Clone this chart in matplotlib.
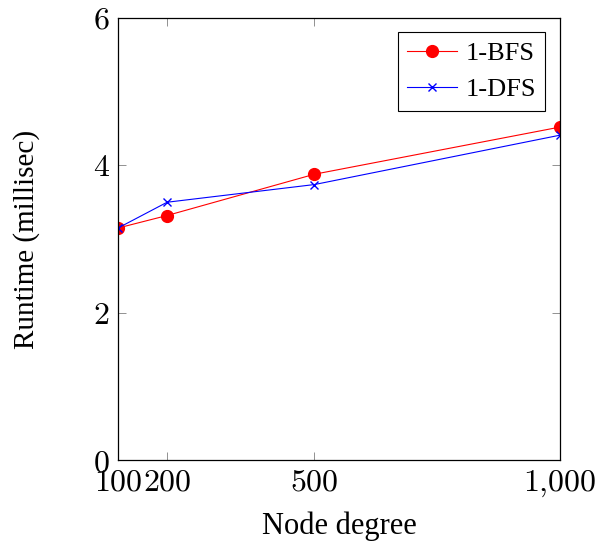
import matplotlib
matplotlib.use("Agg")
from matplotlib import pyplot as plt
from matplotlib.ticker import FuncFormatter

plt.rcParams['mathtext.fontset'] = 'cm'
plt.rcParams['font.family'] = 'Liberation Serif'

degree = [100, 200, 500, 1000]
bfs = [3.15, 3.32, 3.88, 4.52]
dfs = [3.15, 3.50, 3.74, 4.41]
xticks = [100, 200, 500, 1000]
yticks = [0, 2, 4, 6]

fig = plt.figure(figsize=(5.99, 5.44), dpi=100)
ax = fig.add_axes([0.197, 0.154, 0.738, 0.813])

ax.plot(degree, bfs, color='red', lw=0.8, marker='o', ms=8.5, label='1-BFS')
ax.plot(degree, dfs, color='blue', lw=0.8, marker='x', ms=5.5, mew=1.0, label='1-DFS')

ax.set_xlim(100, 1000)
ax.set_ylim(0, 6)
ax.set_xticks(xticks)
ax.set_yticks(yticks)
ax.xaxis.set_major_formatter(FuncFormatter(lambda v, p: r'$%s$' % format(int(v), ',').replace(',', '{,}')))
ax.yaxis.set_major_formatter(FuncFormatter(lambda v, p: r'$%d$' % v))
ax.tick_params(direction='in', length=6, width=0.6, color='gray', labelsize=23,
               top=True, right=True, pad=6)
for s in ax.spines.values():
    s.set_linewidth(0.9)

ax.set_xlabel('Node degree', fontsize=22, labelpad=9)
ax.set_ylabel('Runtime (millisec)', fontsize=21, labelpad=38)

leg = ax.legend(loc='upper right', fontsize=19, fancybox=False, framealpha=1,
                edgecolor='black', handlelength=1.9, borderpad=0.35,
                labelspacing=0.5, handletextpad=0.3, borderaxespad=0,
                bbox_to_anchor=(0.966, 0.968))
leg.get_frame().set_linewidth(0.8)

fig.savefig('out.png', dpi=100)
